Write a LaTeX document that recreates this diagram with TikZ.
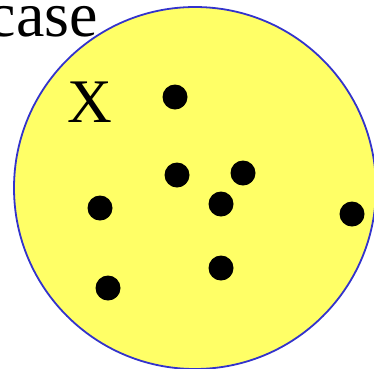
\documentclass[tikz,border=0pt]{standalone}
\usepackage{fontspec}
\setmainfont{Liberation Serif}
\usepackage{tikz}
\usetikzlibrary{positioning}
\definecolor{setfill}{RGB}{255,255,102}
\definecolor{setline}{RGB}{51,51,204}
\tikzset{pt/.style={circle,fill=black,inner sep=0pt,minimum size=25pt}}

\begin{document}
\begin{tikzpicture}[x=1pt,y=-1pt]
      \useasboundingbox (0,0) rectangle (374,368);
      \clip (0,0) rectangle (374,368);
      \node[circle,draw=setline,fill=setfill,line width=1.8pt,minimum size=362pt,inner sep=0pt] (set) at (195,188) {};
      \foreach \n/\x/\y in {a/175/97,b/177/175,c/243/173,d/221/204,e/100/208,f/352/214,g/221/268,h/108/288}
      {\node[pt] (\n) at (\x,\y) {};}
      \node[anchor=base east,inner sep=0pt,font=\fontsize{64}{64}\selectfont] (name) at (98,36) {case};
      \node[anchor=base,inner sep=0pt,font=\fontsize{62}{62}\selectfont] (lbl) at (90,122) {X};
    \end{tikzpicture}
\end{document}
